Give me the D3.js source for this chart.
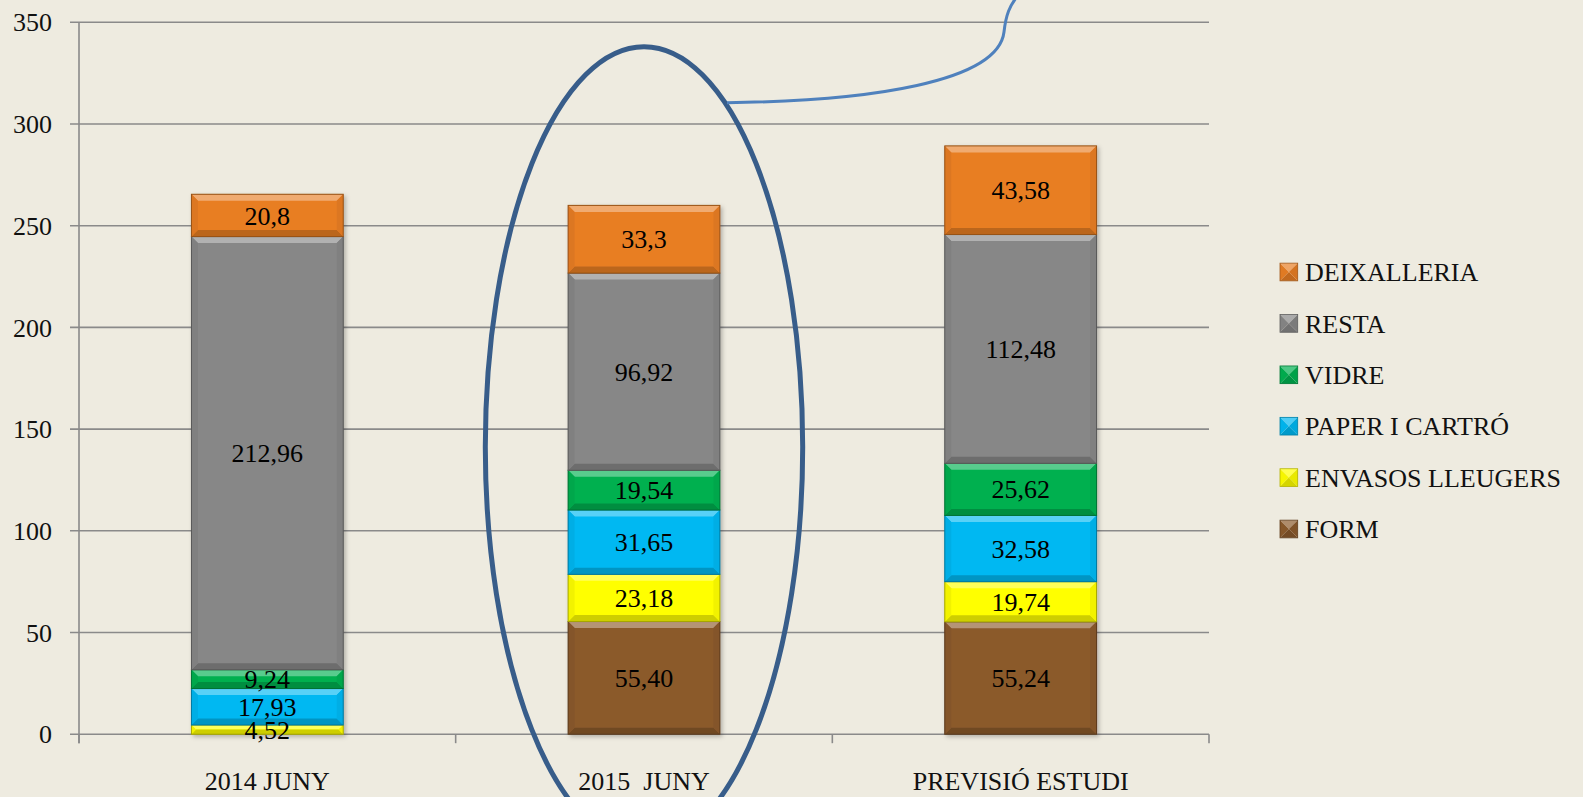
<!DOCTYPE html>
<html>
<head>
<meta charset="utf-8">
<script src="https://cdn.jsdelivr.net/npm/d3@7"></script>
<style>
  body { margin: 0; background: #eeebe0; }
  svg { display: block; font-family: "Liberation Serif", "Times New Roman", serif; }
</style>
</head>
<body>
<svg id="chart"></svg>
<script>
// categories and series (bottom of stack first)
let categories = ["2014 JUNY", "2015  JUNY", "PREVISIÓ ESTUDI"];
let seriesNames = ["FORM", "ENVASOS LLEUGERS", "PAPER I CARTRÓ", "VIDRE", "RESTA", "DEIXALLERIA"];

let form        = [0, 55.40, 55.24];
let envasos     = [4.52, 23.18, 19.74];
let paper       = [17.93, 31.65, 32.58];
let vidre       = [9.24, 19.54, 25.62];
let resta       = [212.96, 96.92, 112.48];
let deixalleria = [20.8, 33.3, 43.58];

let formLabels        = ["", "55,40", "55,24"];
let envasosLabels     = ["4,52", "23,18", "19,74"];
let paperLabels       = ["17,93", "31,65", "32,58"];
let vidreLabels       = ["9,24", "19,54", "25,62"];
let restaLabels       = ["212,96", "96,92", "112,48"];
let deixalleriaLabels = ["20,8", "33,3", "43,58"];

let yTicks = [0, 50, 100, 150, 200, 250, 300, 350];

let colors = ["#8b5a2c", "#ffff00", "#00b8f2", "#00b050", "#878787", "#e87e24"];

let width = 1583;
let height = 797;
let plot = { left: 79, right: 1209, top: 22.3, bottom: 734.2 };

let svg = d3.select("#chart")
            .attr("width", width)
            .attr("height", height);

svg.append("rect")
   .attr("width", width)
   .attr("height", height)
   .attr("fill", "#eeebe0");

let defs = svg.append("defs");
defs.append("filter")
    .attr("id", "shadow")
    .attr("x", "-10%").attr("y", "-10%")
    .attr("width", "130%").attr("height", "130%")
    .append("feDropShadow")
    .attr("dx", 2).attr("dy", 2)
    .attr("stdDeviation", 2)
    .attr("flood-color", "#000")
    .attr("flood-opacity", 0.25);

// build rows for d3.stack
let allValues = [form, envasos, paper, vidre, resta, deixalleria];
let allLabels = [formLabels, envasosLabels, paperLabels, vidreLabels, restaLabels, deixalleriaLabels];
let rows = categories.map((c, i) => {
    let row = { cat: c };
    seriesNames.forEach((s, j) => row[s] = allValues[j][i]);
    return row;
});
let stacked = d3.stack().keys(seriesNames)(rows);

let scaleX = d3.scaleBand()
               .domain(categories)
               .range([plot.left, plot.right])
               .padding(0);

let scaleY = d3.scaleLinear()
               .domain([0, 350])
               .range([plot.bottom, plot.top]);

let barWidth = scaleX.bandwidth() * 0.403;

// gridlines
svg.append("g")
   .selectAll("line")
   .data(yTicks)
   .enter()
   .append("line")
   .attr("x1", plot.left - 9)
   .attr("x2", plot.right)
   .attr("y1", d => scaleY(d))
   .attr("y2", d => scaleY(d))
   .attr("stroke", "#8a8a8a")
   .attr("stroke-width", 1.6);

// y axis line
svg.append("line")
   .attr("x1", plot.left).attr("x2", plot.left)
   .attr("y1", scaleY(350)).attr("y2", scaleY(0) + 9)
   .attr("stroke", "#8a8a8a")
   .attr("stroke-width", 1.6);

// x ticks at category boundaries
let boundaries = categories.map(c => scaleX(c)).concat([plot.right]);
svg.append("g")
   .selectAll("line")
   .data(boundaries)
   .enter()
   .append("line")
   .attr("x1", d => d).attr("x2", d => d)
   .attr("y1", scaleY(0)).attr("y2", scaleY(0) + 9)
   .attr("stroke", "#8a8a8a")
   .attr("stroke-width", 1.6);

// y tick labels
svg.append("g")
   .selectAll("text")
   .data(yTicks)
   .enter()
   .append("text")
   .attr("x", 52)
   .attr("y", d => scaleY(d))
   .attr("dy", "0.35em")
   .attr("text-anchor", "end")
   .style("font-size", "26px")
   .attr("fill", "#111")
   .text(d => d);

// x labels
svg.append("g")
   .selectAll("text")
   .data(categories)
   .enter()
   .append("text")
   .attr("x", d => scaleX(d) + scaleX.bandwidth() / 2)
   .attr("y", 790)
   .attr("text-anchor", "middle")
   .style("font-size", "26px")
   .style("white-space", "pre")
   .attr("xml:space", "preserve")
   .attr("fill", "#111")
   .text(d => d);

// bars with bevel
function drawSegment(g, x0, x1, y0, y1, color) {
    let base = d3.color(color);
    let light = d3.interpolateRgb(base, "#ffffff")(0.35);
    let dark = base.darker(0.6);
    let side = base.darker(0.15);
    let b = Math.min(6.5, (y1 - y0) / 2);
    g.append("rect")
     .attr("x", x0).attr("y", y0)
     .attr("width", x1 - x0).attr("height", y1 - y0)
     .attr("fill", base);
    let pts = (arr) => arr.map(p => p.join(",")).join(" ");
    g.append("polygon")
     .attr("points", pts([[x0, y0], [x1, y0], [x1 - b, y0 + b], [x0 + b, y0 + b]]))
     .attr("fill", light);
    g.append("polygon")
     .attr("points", pts([[x0, y1], [x1, y1], [x1 - b, y1 - b], [x0 + b, y1 - b]]))
     .attr("fill", dark);
    g.append("polygon")
     .attr("points", pts([[x0, y0], [x0 + b, y0 + b], [x0 + b, y1 - b], [x0, y1]]))
     .attr("fill", side);
    g.append("polygon")
     .attr("points", pts([[x1, y0], [x1 - b, y0 + b], [x1 - b, y1 - b], [x1, y1]]))
     .attr("fill", side);
    g.append("rect")
     .attr("x", x0).attr("y", y0)
     .attr("width", x1 - x0).attr("height", y1 - y0)
     .attr("fill", "none")
     .attr("stroke", base.darker(1.2))
     .attr("stroke-width", 1);
}

let barsG = svg.append("g").attr("filter", "url(#shadow)");
stacked.forEach((layer, j) => {
    layer.forEach((d, i) => {
        if (d[1] - d[0] <= 0) return;
        let cx = scaleX(categories[i]) + scaleX.bandwidth() / 2;
        drawSegment(barsG, cx - barWidth / 2, cx + barWidth / 2,
                    scaleY(d[1]), scaleY(d[0]), colors[j]);
    });
});

// data labels
stacked.forEach((layer, j) => {
    layer.forEach((d, i) => {
        let label = allLabels[j][i];
        if (!label) return;
        let cx = scaleX(categories[i]) + scaleX.bandwidth() / 2;
        svg.append("text")
           .attr("x", cx)
           .attr("y", (scaleY(d[0]) + scaleY(d[1])) / 2)
           .attr("dy", "0.35em")
           .attr("text-anchor", "middle")
           .style("font-size", "26px")
           .attr("fill", "#000")
           .text(label);
    });
});

// legend (top entry = last series)
let legendOrder = seriesNames.slice().reverse();
let legend = svg.append("g").attr("id", "legend");
let sq = 17.7;
legendOrder.forEach((name, k) => {
    let color = d3.color(colors[seriesNames.indexOf(name)]);
    let cy = 272 + k * 51.4;
    let x0 = 1280, y0 = cy - sq / 2, x1 = x0 + sq, y1 = y0 + sq;
    let mx = x0 + sq / 2, my = cy;
    let tri = (a, c) => legend.append("polygon")
        .attr("points", a.map(p => p.join(",")).join(" "))
        .attr("fill", c);
    tri([[x0, y0], [x1, y0], [mx, my]], d3.interpolateRgb(color, "#fff")(0.3));
    tri([[x0, y1], [x1, y1], [mx, my]], color.darker(0.5));
    tri([[x0, y0], [x0, y1], [mx, my]], color.darker(0.1));
    tri([[x1, y0], [x1, y1], [mx, my]], color.darker(0.25));
    legend.append("rect")
          .attr("x", x0).attr("y", y0)
          .attr("width", sq).attr("height", sq)
          .attr("fill", "none")
          .attr("stroke", color.darker(1))
          .attr("stroke-width", 0.8);
    legend.append("text")
          .attr("x", 1305)
          .attr("y", cy)
          .attr("dy", "0.35em")
          .style("font-size", "26px")
          .attr("fill", "#111")
          .text(name);
});

// highlight ellipse around 2015 bar and callout line
let ellCx = scaleX(categories[1]) + scaleX.bandwidth() / 2;
svg.append("ellipse")
   .attr("cx", ellCx)
   .attr("cy", scaleY(141.3))
   .attr("rx", 158.7)
   .attr("ry", scaleY(0) - scaleY(196.7))
   .attr("fill", "none")
   .attr("stroke", "#385d8a")
   .attr("stroke-width", 5);

svg.append("path")
   .attr("d", "M727,102.7 C870,101 998,82 1004,32 C1006,14 1010,6 1016,-2")
   .attr("fill", "none")
   .attr("stroke", "#4f81bd")
   .attr("stroke-width", 3);
</script>
</body>
</html>
